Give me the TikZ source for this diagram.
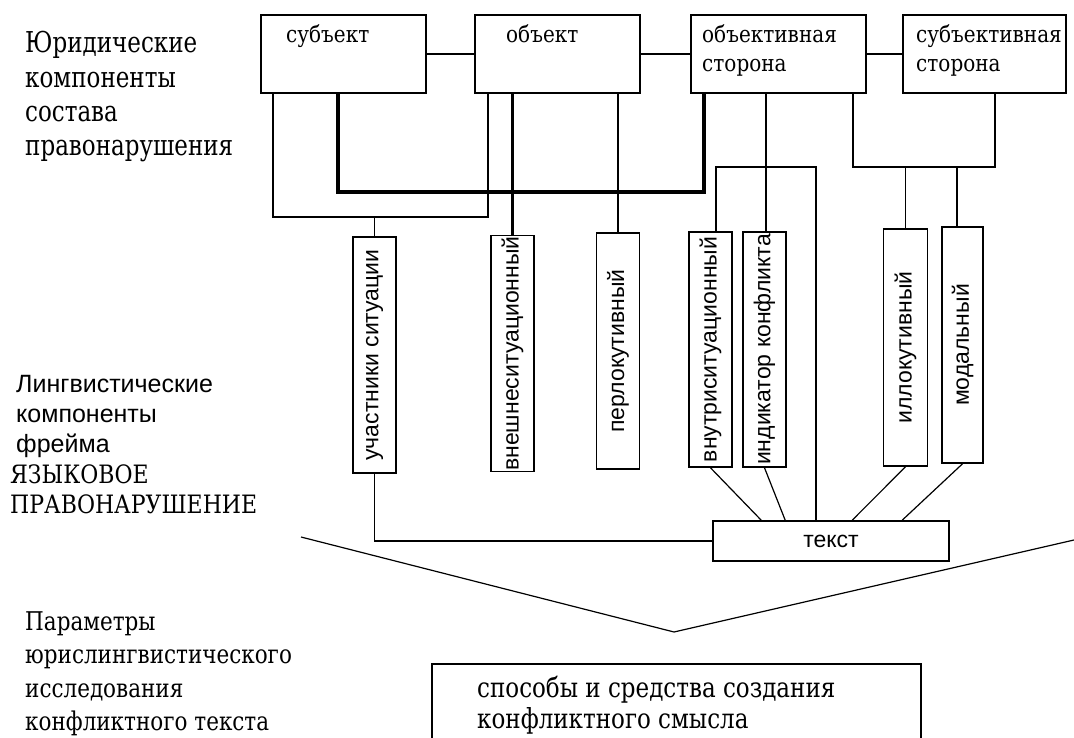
\documentclass[tikz,border=0pt]{standalone}
\usepackage{graphicx}
\usepackage{fontspec}
\setmainfont{DejaVu Serif}
\newfontfamily\sansf{Liberation Sans}
\newfontfamily\dvs{DejaVu Serif}
\usetikzlibrary{calc}
\newcommand{\tallA}[1]{\scalebox{1}[1.15]{#1}}
\newcommand{\tallB}[1]{\scalebox{1}[1.25]{#1}}
\newcommand{\tallC}[1]{\scalebox{1}[1.2]{#1}}
\tikzset{
  box/.style={draw, line width=1.6pt, inner sep=0pt},
  topbox/.style={box, minimum height=78pt},
  vbox/.style={box, minimum width=43pt, minimum height=236pt, font=\sansf\fontsize{23}{27}\selectfont},
  conn/.style={line width=1.6pt},
  boldconn/.style={line width=3.8pt},
  diag/.style={line width=1.2pt},
  toplbl/.style={anchor=base west, inner sep=0pt, font=\dvs\fontsize{20}{24}\selectfont},
  biglbl/.style={anchor=base west, inner sep=0pt, font=\dvs\fontsize{23}{28}\selectfont},
  serlbl/.style={anchor=base west, inner sep=0pt, font=\dvs\fontsize{21.5}{26}\selectfont},
  caplbl/.style={anchor=base west, inner sep=0pt, font=\dvs\fontsize{22}{28}\selectfont},
  sanslbl/.style={anchor=base west, inner sep=0pt, font=\sansf\fontsize{25}{28}\selectfont},
  reslbl/.style={anchor=base west, inner sep=0pt, font=\dvs\fontsize{23}{28}\selectfont},
}
\begin{document}
\begin{tikzpicture}[x=1pt,y=-1pt]
\useasboundingbox (0,0) rectangle (1074,738);
\clip (0,0) rectangle (1074,738);
\fill[white] (0,0) rectangle (1074,738);

% top boxes
\node[topbox, minimum width=165pt] (subj) at (343.5,54) {};
\node[topbox, minimum width=165pt] (obj) at (557.5,54) {};
\node[topbox, minimum width=175pt] (objside) at (778.5,54) {};
\node[topbox, minimum width=163pt] (subjside) at (984.5,54) {};
\node[toplbl] (lsubj) at (286,43) {\tallA{субъект}};
\node[toplbl] (lobj) at (506,43) {\tallA{объект}};
\node[toplbl] (lobjs1) at (702,43) {\tallA{объективная}};
\node[toplbl] (lobjs2) at (702,72) {\tallA{сторона}};
\node[toplbl] (lsubs1) at (916,43) {\tallA{субъективная}};
\node[toplbl] (lsubs2) at (916,72) {\tallA{сторона}};

\draw[conn] (subj.east) -- (obj.west);
\draw[conn] (obj.east) -- (objside.west);
\draw[conn] (objside.east) -- (subjside.west);

% vertical boxes
\node[vbox] (v1) at (374.5,355) {\rotatebox{90}{участники ситуации}};
\node[vbox] (v2) at (512.5,353.5) {\rotatebox{90}{внешнеситуационный}};
\node[vbox] (v3) at (618,351) {\rotatebox{90}{перлокутивный}};
\node[vbox, minimum height=235pt] (v4) at (710.5,349.5) {\rotatebox{90}{внутриситуационный}};
\node[vbox, minimum height=235pt] (v5) at (764.5,349.5) {\rotatebox{90}{индикатор конфликта}};
\node[vbox, minimum width=44pt, minimum height=237pt] (v6) at (905.5,347.5) {\rotatebox{90}{иллокутивный}};
\node[vbox, minimum width=41pt] (v7) at (962.5,345) {\rotatebox{90}{модальный}};

% text box
\node[box, minimum width=236pt, minimum height=40pt, font=\sansf\fontsize{23}{27}\selectfont] (txt) at (831,541) {текст};

% junctions
\coordinate (jL) at (273,217);
\coordinate (jR) at (488,217);
\coordinate (tL) at (338,192);
\coordinate (tR) at (704,192);
\coordinate (b1) at (716,167);
\coordinate (b2) at (766,167);
\coordinate (b3) at (816,167);
\coordinate (c1) at (853,167);
\coordinate (c2) at (995,167);
\coordinate (c3) at (957,167);

% connectors from the top boxes
\draw[conn] (jL |- subj.south) -- (jL) -- (jR) -- (jR |- obj.south);
\draw[conn] (v1.north |- jL) -- (v1.north);
\draw[boldconn] (tL |- subj.south) -- (tL) -- (tR) -- (tR |- objside.south);
\draw[boldconn] (v2.north |- obj.south) -- (v2.north);
\draw[conn] (v3.north |- obj.south) -- (v3.north);
\draw[conn] (b2 |- objside.south) -- (b2);
\draw[conn] (b1 |- v4.north) -- (b1) -- (b3) -- (b3 |- txt.north);
\draw[conn] (b2) -- (b2 |- v5.north);
\draw[conn] (c1 |- objside.south) -- (c1) -- (c2) -- (c2 |- subjside.south);
\draw[conn] (v6.north |- c1) -- (v6.north);
\draw[conn] (c3) -- (c3 |- v7.north);

% connectors to the text box
\draw[conn] (v1.south) |- (txt.west);
\draw[diag] (v4.south) -- ($(txt.north west)+(49,0)$);
\draw[diag] (v5.south) -- ($(txt.north west)+(73,0)$);
\draw[diag] (v6.south) -- ($(txt.north west)+(140,0)$);
\draw[diag] (v7.south) -- ($(txt.north west)+(190,0)$);

% big V
\coordinate (vl) at (301,537);
\coordinate (vt) at (674,632);
\coordinate (vr) at (1074,540);
\draw[diag] (vl) -- (vt) -- (vr);

% result box
\node[box, minimum width=489pt, minimum height=100pt] (res) at (676.5,714) {};
\node[reslbl] (r1) at (477,697) {\tallC{способы и средства создания}};
\node[reslbl] (r2) at (477,728) {\tallC{конфликтного смысла}};

% left texts
\node[biglbl] (a1) at (25,53) {\tallB{Юридические}};
\node[biglbl] (a2) at (25,88) {\tallB{компоненты}};
\node[biglbl] (a3) at (25,122) {\tallB{состава}};
\node[biglbl] (a4) at (25,156) {\tallB{правонарушения}};

\node[sanslbl] (b1t) at (16,392) {Лингвистические};
\node[sanslbl] (b2t) at (16,422) {компоненты};
\node[sanslbl] (b3t) at (16,452) {фрейма};
\node[caplbl] (b4t) at (10,483) {\tallA{ЯЗЫКОВОЕ}};
\node[caplbl] (b5t) at (10,513) {\tallA{ПРАВОНАРУШЕНИЕ}};

\node[serlbl] (d1) at (25,630) {\tallC{Параметры}};
\node[serlbl] (d2) at (25,663) {\tallC{юрислингвистического}};
\node[serlbl] (d3) at (25,697) {\tallC{исследования}};
\node[serlbl] (d4) at (25,730) {\tallC{конфликтного текста}};
\end{tikzpicture}
\end{document}
